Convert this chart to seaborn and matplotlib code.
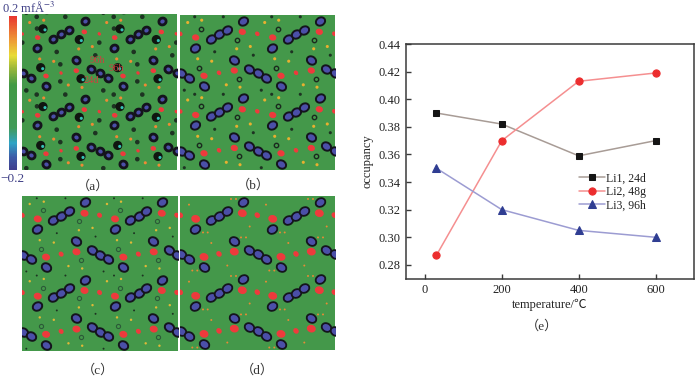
import numpy as np
import pandas as pd
import matplotlib
matplotlib.use("Agg")
import matplotlib.pyplot as plt
import seaborn as sns
from matplotlib.colors import LinearSegmentedColormap
from matplotlib.markers import MarkerStyle
from matplotlib.transforms import Affine2D

# Line chart data
temperature = [30, 200, 400, 600]
li1_24d = [0.390, 0.382, 0.359, 0.370]
li2_48g = [0.287, 0.370, 0.413, 0.419]
li3_96h = [0.350, 0.320, 0.305, 0.300]
occupancy_ticks = [0.28, 0.30, 0.32, 0.34, 0.36, 0.38, 0.40, 0.42, 0.44]
temperature_ticks = [0, 200, 400, 600]

# Density map sites, in map units, one repeat cell of the lattice
cell_shift_x = [-77, 0, 77, 154]
cell_shift_y = [-77.5, 0, 77.5, 155]
blue_rising_x = [31.0, 39.3, 47.0, 63.0, 15.3]
blue_rising_y = [24.0, 19.7, 15.0, 6.3, 33.0]
blue_falling_x = [69.3, 77.7, 85.7, 54.0, 24.0]
blue_falling_y = [54.3, 58.7, 63.0, 45.0, 71.7]
red_x = [15.7, 62.3, 54.3, 24.0]
red_y = [23.0, 17.3, 56.0, 61.3]
red_small_x = [77.3, 39.0]
red_small_y = [19.3, 58.3]
ring_x = [57.3, 21.0, 18.7, 59.0]
ring_y = [25.0, 14.3, 53.0, 64.0]
dark_x = [14.7, 43.3, 34.7, 73.3, 4.3, 38.3, 38.3, 0.3, 15.0]
dark_y = [2.3, 2.3, 37.3, 40.7, 75.7, 49.7, 66.7, 28.0, 14.0]
spot_x = [21.7, 7.7, 56.7, 70.3, 17.7, 31.7, 46.3, 60.0]
spot_y = [5.7, 8.0, 34.3, 32.0, 44.3, 46.7, 70.3, 72.7]
spot_d_x = [51.0, 56.0, 9.0, 69.7, 23.0, 27.7, 66.0, 61.0, 31.3, 47.3, 12.3, 17.3]
spot_d_y = [3.0, 3.0, 8.7, 30.7, 36.7, 36.7, 41.7, 41.7, 47.3, 70.0, 75.0, 75.0]
site_labels = ["96h", "96h", "24d"]
site_label_x = [75, 94, 69]
site_label_y = [46, 54, 66]

colorbar_levels = [0.0, 0.08, 0.17, 0.27, 0.55, 0.66, 0.74, 0.84, 1.0]
colorbar_colors = ["#40408f", "#3d5ca8", "#2fa3c4", "#419a58", "#429a45",
                   "#9db83a", "#e8dc35", "#ee9a35", "#e8332f"]

GREEN = "#44984a"
BLUE = "#4b4fa8"
RED = "#ee3a3c"
FONT = ["Liberation Serif", "Noto Sans CJK SC", "DejaVu Sans"]
W, H = 700, 377

sns.set_style("white")
plt.rcParams["font.family"] = FONT
plt.rcParams["axes.unicode_minus"] = True

fig = plt.figure(figsize=(7.0, 3.77), dpi=100)


def add_axes(left, top, right, bottom):
    return fig.add_axes([left / W, 1 - bottom / H, (right - left) / W, (bottom - top) / H])


def tile(xs, ys):
    out_x, out_y = [], []
    for sx in cell_shift_x:
        for sy in cell_shift_y:
            out_x += [x + sx for x in xs]
            out_y += [y + sy for y in ys]
    return out_x, out_y


def oval(angle, squash=0.72):
    return MarkerStyle("o", transform=Affine2D().scale(1, squash).rotate_deg(angle))


def sites(ax, xs, ys, size, color, angle=0, squash=1.0, edge="none", lw=0):
    tx, ty = tile(xs, ys)
    sns.scatterplot(x=tx, y=ty, ax=ax, s=size, color=color, marker=oval(angle, squash),
                    edgecolor=edge, linewidth=lw, legend=False, zorder=3)


def map_panel(box, blue_size, blue_lw, blue_squash, red_size, ring, dark, spot, spot_color):
    ax = add_axes(*box)
    ax.set_facecolor(GREEN)
    ax.set_xlim(0, 155)
    ax.set_ylim(155, 0)
    sites(ax, dark[0], dark[1], dark[2], "#1d3322")
    sites(ax, spot[0], spot[1], spot[2], spot_color)
    sites(ax, red_x, red_y, red_size, RED, angle=-15, squash=0.85)
    sites(ax, red_small_x, red_small_y, red_size * 0.45, RED, angle=-50, squash=0.85)
    sites(ax, ring_x, ring_y, ring[0], ring[1], edge=ring[3], lw=ring[2])
    sites(ax, blue_rising_x, blue_rising_y, blue_size, BLUE, angle=30, squash=blue_squash,
          edge="#14141c", lw=blue_lw)
    sites(ax, blue_falling_x, blue_falling_y, blue_size, BLUE, angle=-32, squash=blue_squash,
          edge="#14141c", lw=blue_lw)
    ax.set_xticks([])
    ax.set_yticks([])
    for spine in ax.spines.values():
        spine.set_visible(False)
    return ax


# (a) to (d) density maps
ax_a = map_panel((22, 14.5, 177, 170), 28, 2.0, 0.92, 16, (44, "#101510", 0, "none"),
                 (dark_x, dark_y, 11), (spot_x, spot_y, 5), "#ee8a35")
ring_cx, ring_cy = tile([x + 2 for x in ring_x], [y + 1 for y in ring_y])
sns.scatterplot(x=ring_cx, y=ring_cy, ax=ax_a, s=5, color="#35c0b5", edgecolor="none", legend=False, zorder=4)
for label, lx, ly in zip(site_labels, site_label_x, site_label_y):
    ax_a.text(lx, ly, label, color="#c8433f", fontsize=7.5, ha="center", va="center", zorder=5)

map_panel((180, 14.5, 335, 169.5), 48, 1.4, 0.82, 28, (10, GREEN, 1.0, "#1a2a1e"),
          (dark_x[:5], dark_y[:5], 5), (spot_x, spot_y, 5), "#e8b030")
map_panel((22, 196, 177.5, 350.5), 50, 1.4, 0.82, 34, (9, GREEN, 0.8, "#2b5a38"),
          (dark_x[:5], dark_y[:5], 2), (spot_x, spot_y, 3), "#e0b838")
map_panel((180, 196, 335, 350), 52, 1.3, 0.82, 42, (1, GREEN, 0, "none"), ([], [], 1),
          (spot_d_x, spot_d_y, 2), "#e88a35")

for label, cx, cy in [("（a）", 93, 186), ("（b）", 253, 185), ("（c）", 98, 370), ("（d）", 257, 370)]:
    fig.text(cx / W, 1 - cy / H, label, fontsize=9.5, ha="center", va="center", color="#333333")

# Colour bar
ax_bar = add_axes(9, 15.5, 17, 170)
bar_cmap = LinearSegmentedColormap.from_list("density", list(zip(colorbar_levels, colorbar_colors)))
bar_values = np.linspace(0.2, -0.2, 155).reshape(-1, 1)
sns.heatmap(bar_values, ax=ax_bar, cmap=bar_cmap, vmin=-0.2, vmax=0.2, cbar=False,
            xticklabels=False, yticklabels=False)
fig.text(2 / W, 1 - 8 / H, "0.2 mfÅ$^{-3}$", fontsize=9, color="#3f3f86", ha="left", va="center",
         math_fontfamily="stix")
fig.text(0.5 / W, 1 - 178.5 / H, "−0.2", fontsize=9.5, color="#3f3f86", ha="left", va="center")

# (e) occupancy line chart
series = pd.DataFrame({
    "temperature": temperature * 3,
    "occupancy": li1_24d + li2_48g + li3_96h,
    "site": ["Li1, 24d"] * 4 + ["Li2, 48g"] * 4 + ["Li3, 96h"] * 4,
})
ax = add_axes(405.7, 44, 694, 278.7)
line_styles = {
    "Li1, 24d": ("#a89c96", "#151515", "s", 4.4),
    "Li2, 48g": ("#f58f90", "#ec2d2e", "o", 5.2),
    "Li3, 96h": ("#9c9cd2", "#2f3d92", "^", 5.8),
}
for site, (line_color, mark_color, mark, size) in line_styles.items():
    sns.lineplot(data=series[series["site"] == site], x="temperature", y="occupancy", ax=ax,
                 color=line_color, marker=mark, markersize=size, markerfacecolor=mark_color,
                 markeredgecolor=mark_color, linewidth=1.1, label=site, errorbar=None)
ax.set_xlim(-50, 700)
ax.set_ylim(0.27, 0.44)
ax.set_xticks(temperature_ticks)
ax.set_yticks(occupancy_ticks)
ax.set_yticklabels([f"{v:.2f}" for v in occupancy_ticks])
ax.tick_params(axis="both", direction="in", length=3.5, width=1, color="#3a3a3a",
               labelsize=9, labelcolor="#222222", left=True, bottom=True, pad=4)
for spine in ax.spines.values():
    spine.set_visible(True)
    spine.set_color("#3a3a3a")
    spine.set_linewidth(1.1)
ax.set_xlabel("temperature/℃", fontsize=9, color="#222222", labelpad=2)
ax.set_ylabel("occupancy", fontsize=9, color="#222222", labelpad=3)
ax.legend(loc="upper left", bbox_to_anchor=(0.58, 0.478), frameon=False, fontsize=8.5,
          labelspacing=0.12, handlelength=2.2, handletextpad=0.1, borderpad=0, labelcolor="#222222")
fig.text(542 / W, 1 - 326 / H, "（e）", fontsize=9.5, ha="center", va="center", color="#333333")

fig.savefig("out.png", dpi=100, facecolor="white")
